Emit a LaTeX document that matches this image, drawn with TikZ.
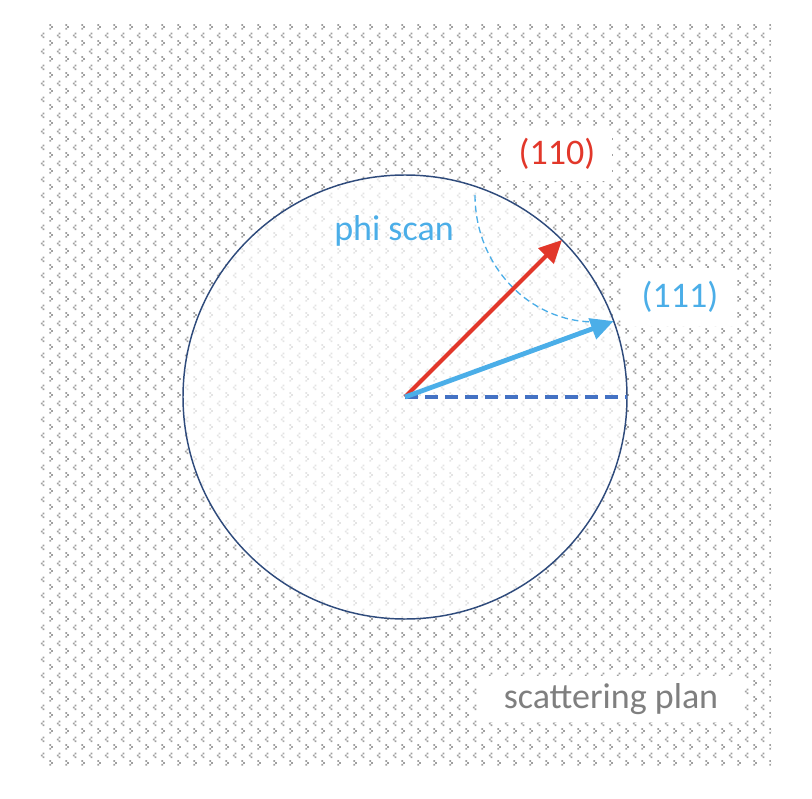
\documentclass[tikz,border=0pt]{standalone}
\usepackage{fontspec}
\setmainfont{Carlito}
\usetikzlibrary{%
   arrows.meta,%
   patterns,%
   positioning%
}
\definecolor{planred}{HTML}{E2372A}
\definecolor{planblue}{HTML}{4BAEE8}
\definecolor{axisblue}{HTML}{4472C4}
\definecolor{rimblue}{HTML}{2F4B7C}
\definecolor{labelgray}{HTML}{7F7F7F}
\definecolor{dotgray}{HTML}{A0A0A0}

% little chevrons, one > and one < per tile
\pgfdeclarepatternformonly{chevrondots}{\pgfqpoint{0pt}{0pt}}{\pgfqpoint{12pt}{12pt}}{\pgfqpoint{12pt}{12pt}}{%
  \pgfpathrectangle{\pgfqpoint{1pt}{1pt}}{\pgfqpoint{1.4pt}{1.4pt}}%
  \pgfpathrectangle{\pgfqpoint{2.5pt}{2.5pt}}{\pgfqpoint{1.4pt}{1.4pt}}%
  \pgfpathrectangle{\pgfqpoint{1pt}{4pt}}{\pgfqpoint{1.4pt}{1.4pt}}%
  \pgfpathrectangle{\pgfqpoint{8.5pt}{7pt}}{\pgfqpoint{1.4pt}{1.4pt}}%
  \pgfpathrectangle{\pgfqpoint{7pt}{8.5pt}}{\pgfqpoint{1.4pt}{1.4pt}}%
  \pgfpathrectangle{\pgfqpoint{8.5pt}{10pt}}{\pgfqpoint{1.4pt}{1.4pt}}%
  \pgfusepath{fill}%
}

\begin{document}
\begin{tikzpicture}[x=0.75pt,y=-0.75pt,
	rim/.style={
	circle,minimum size=333pt,inner sep=0pt,outer sep=0pt,
	draw=rimblue,line width=1.1pt,
	fill=white,fill opacity=0.72
	},vector/.style={
	line width=3pt,-{Triangle[length=17pt,width=16pt]}
	},axis/.style={
	draw=axisblue,line width=2.6pt,dash pattern=on 10pt off 5pt
	},scanarc/.style={
	draw=planblue,line width=1pt,dash pattern=on 5pt off 3pt
	},tag/.style={
	fill=white,inner sep=0pt,
	font=\fontsize{27}{32}\selectfont
	}
]
\useasboundingbox (0,0) rectangle (812,798);

% dotted background
\fill[pattern=chevrondots,pattern color=dotgray] (37,25) rectangle (771,766);

% the plane
\node (plan) [rim] at (405,397) {};

% phi scan arc
\coordinate (scantop) at (475,195);
\draw[scanarc] (scantop) arc[start angle=180,end angle=90,x radius=120,y radius=127];

% vectors
\draw[axis] (plan.center) -- (plan.east);
\draw[vector,draw=planred,fill=planred] (plan.center) -- (plan.45);
\draw[vector,draw=planblue,fill=planblue,line width=3.6pt] (plan.center) -- (plan.20);

% labels
\node (hkl110) [tag,text=planred,minimum width=83pt,minimum height=41pt] at (557,154) {(110)};
\node (hkl111) [tag,text=planblue,minimum width=86pt,minimum height=43pt] at (680,297) {(111)};
\node (phiscan) [text=planblue,inner sep=0pt,font=\fontsize{27}{32}\selectfont] at (394,231) {phi scan};
\node (planlabel) [tag,text=labelgray,minimum width=195pt,minimum height=35pt] at (611,699) {scattering plan};

\end{tikzpicture}
\end{document}
